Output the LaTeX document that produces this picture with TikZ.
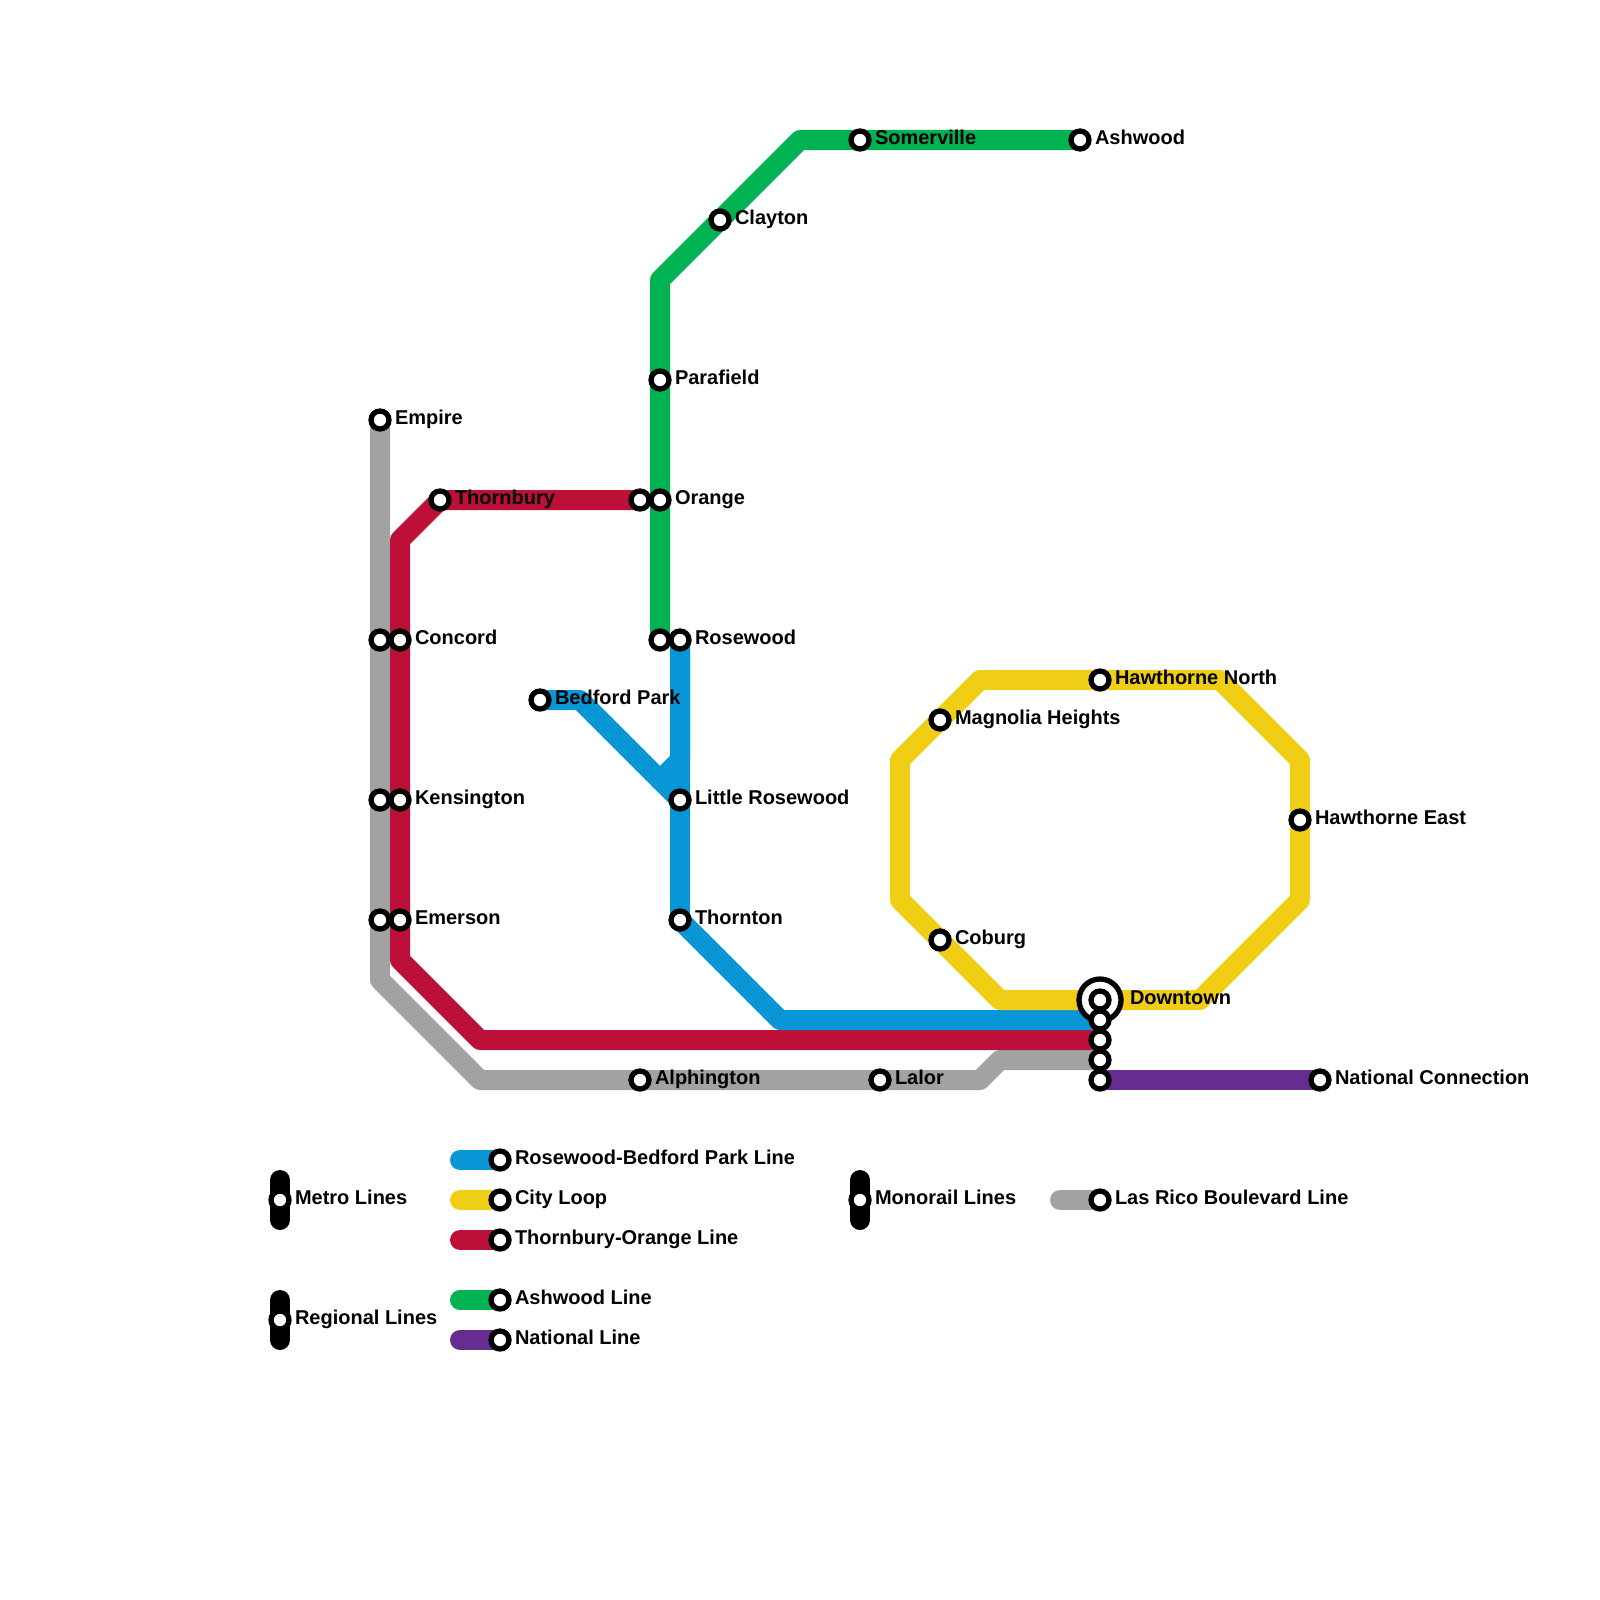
\documentclass[tikz,border=0pt]{standalone}
\usepackage{fontspec}
\setmainfont{Liberation Sans}
\usetikzlibrary{backgrounds}
\definecolor{cblue}{HTML}{0896D7}
\definecolor{cyellow}{HTML}{F0CE15}
\definecolor{cred}{HTML}{BD1038}
\definecolor{cgreen}{HTML}{00B251}
\definecolor{cpurple}{HTML}{662C90}
\definecolor{cgray}{HTML}{A2A2A2}
\tikzset{
  stn/.style={circle,draw=black,fill=white,line width=5.3pt,minimum size=18pt,inner sep=0pt,outer sep=0pt},
  hub/.style={circle,draw=black,fill=white,line width=5.3pt,minimum size=42pt,inner sep=0pt,outer sep=0pt},
  lbl/.style={anchor=base west,inner sep=0pt,outer sep=0pt,xshift=15pt,yshift=-4.8pt,text=black,font=\fontsize{20}{24}\selectfont\bfseries},
  far/.style={lbl,xshift=15pt},
  ln/.style={line width=20pt,line cap=round,line join=round},
}
\begin{document}
\begin{tikzpicture}[x=1pt,y=-1pt]
\useasboundingbox (0,0) rectangle (1600,1600);
% bend points
\coordinate (g1) at (380,980);
\coordinate (g2) at (480,1080);
\coordinate (g3) at (980,1080);
\coordinate (g4) at (1000,1060);
\coordinate (r1) at (400,540);
\coordinate (r2) at (400,960);
\coordinate (r3) at (480,1040);
\coordinate (gr1) at (800,140);
\coordinate (gr2) at (660,280);
\coordinate (b1) at (580,700);
\coordinate (b2) at (660,780);
\coordinate (b3) at (680,760);
\coordinate (b4) at (780,1020);
\coordinate (y1) at (1000,1000);
\coordinate (y2) at (900,900);
\coordinate (y3) at (900,760);
\coordinate (y4) at (980,680);
\coordinate (y5) at (1220,680);
\coordinate (y6) at (1300,760);
\coordinate (y7) at (1300,900);
\coordinate (y8) at (1200,1000);
\coordinate (k1a) at (280,1180);
\coordinate (k1b) at (280,1220);
\coordinate (k2a) at (280,1300);
\coordinate (k2b) at (280,1340);
\coordinate (k3a) at (860,1180);
\coordinate (k3b) at (860,1220);
\coordinate (kb) at (460,1160);
\coordinate (ky) at (460,1200);
\coordinate (kr) at (460,1240);
\coordinate (kg) at (460,1300);
\coordinate (kp) at (460,1340);
\coordinate (ks) at (1060,1200);
% stations
\node[hub] (hub) at (1100,1000) {};
\foreach \n/\x/\y in {Empire/380/420,GrayA/380/640,GrayB/380/800,GrayC/380/920,
  Concord/400/640,Kensington/400/800,Emerson/400/920,Thornbury/440/500,RedEnd/640/500,
  Orange/660/500,Parafield/660/380,Clayton/720/220,Somerville/860/140,Ashwood/1080/140,
  GreenEnd/660/640,Rosewood/680/640,Bedford/540/700,LittleRose/680/800,Thornton/680/920,
  HawN/1100/680,Magnolia/940/720,Coburg/940/940,HawE/1300/820,
  Downtown/1100/1000,BlueEnd/1100/1020,RedEast/1100/1040,GrayEast/1100/1060,NatWest/1100/1080,
  National/1320/1080,Alphington/640/1080,Lalor/880/1080,
  KeyMetro/280/1200,KeyRegional/280/1320,KeyMono/860/1200,
  KeyBlue/500/1160,KeyYellow/500/1200,KeyRed/500/1240,KeyGreen/500/1300,KeyPurple/500/1340,KeyGray/1100/1200}
  {\node[stn] (\n) at (\x,\y) {};}
% labels
\node[lbl] (tEmpire) at (Empire) {Empire};
\node[lbl] (tConcord) at (Concord) {Concord};
\node[lbl] (tKensington) at (Kensington) {Kensington};
\node[lbl] (tEmerson) at (Emerson) {Emerson};
\node[lbl] (tThornbury) at (Thornbury) {Thornbury};
\node[lbl] (tOrange) at (Orange) {Orange};
\node[lbl] (tParafield) at (Parafield) {Parafield};
\node[lbl] (tClayton) at (Clayton) {Clayton};
\node[lbl] (tSomerville) at (Somerville) {Somerville};
\node[lbl] (tAshwood) at (Ashwood) {Ashwood};
\node[lbl] (tRosewood) at (Rosewood) {Rosewood};
\node[lbl] (tBedford) at (Bedford) {Bedford Park};
\node[lbl] (tLittleRose) at (LittleRose) {Little Rosewood};
\node[lbl] (tThornton) at (Thornton) {Thornton};
\node[lbl] (tHawN) at (HawN) {Hawthorne North};
\node[lbl] (tMagnolia) at (Magnolia) {Magnolia Heights};
\node[lbl] (tCoburg) at (Coburg) {Coburg};
\node[lbl] (tHawE) at (HawE) {Hawthorne East};
\node[far] (tDowntown) at (Downtown) {Downtown};
\node[lbl] (tNational) at (National) {National Connection};
\node[lbl] (tAlphington) at (Alphington) {Alphington};
\node[lbl] (tLalor) at (Lalor) {Lalor};
\node[lbl] (tKeyMetro) at (KeyMetro) {Metro Lines};
\node[lbl] (tKeyRegional) at (KeyRegional) {Regional Lines};
\node[lbl] (tKeyMono) at (KeyMono) {Monorail Lines};
\node[lbl] (tKeyBlue) at (KeyBlue) {Rosewood-Bedford Park Line};
\node[lbl] (tKeyYellow) at (KeyYellow) {City Loop};
\node[lbl] (tKeyRed) at (KeyRed) {Thornbury-Orange Line};
\node[lbl] (tKeyGreen) at (KeyGreen) {Ashwood Line};
\node[lbl] (tKeyPurple) at (KeyPurple) {National Line};
\node[lbl] (tKeyGray) at (KeyGray) {Las Rico Boulevard Line};
% lines
\begin{scope}[on background layer]
\draw[ln,cgray] (Empire.center) -- (g1) -- (g2) -- (g3) -- (g4) -- (GrayEast.center);
\draw[ln,cred] (RedEnd.center) -- (Thornbury.center) -- (r1) -- (r2) -- (r3) -- (RedEast.center);
\draw[ln,cgreen] (Ashwood.center) -- (gr1) -- (gr2) -- (GreenEnd.center);
\draw[ln,cblue] (Bedford.center) -- (b1) -- (b2) -- (b3) -- (Rosewood.center);
\draw[ln,cblue] (b2) -- (LittleRose.center);
\draw[ln,cblue] (Rosewood.center) -- (Thornton.center) -- (b4) -- (BlueEnd.center);
\draw[ln,cyellow] (Downtown.center) -- (y1) -- (y2) -- (y3) -- (y4) -- (y5) -- (y6) -- (y7) -- (y8) -- (Downtown.center);
\draw[ln,cpurple] (NatWest.center) -- (National.center);
\draw[ln,black] (k1a) -- (k1b);
\draw[ln,black] (k2a) -- (k2b);
\draw[ln,black] (k3a) -- (k3b);
\draw[ln,cblue] (kb) -- (KeyBlue.center);
\draw[ln,cyellow] (ky) -- (KeyYellow.center);
\draw[ln,cred] (kr) -- (KeyRed.center);
\draw[ln,cgreen] (kg) -- (KeyGreen.center);
\draw[ln,cpurple] (kp) -- (KeyPurple.center);
\draw[ln,cgray] (ks) -- (KeyGray.center);
\end{scope}
\end{tikzpicture}
\end{document}
